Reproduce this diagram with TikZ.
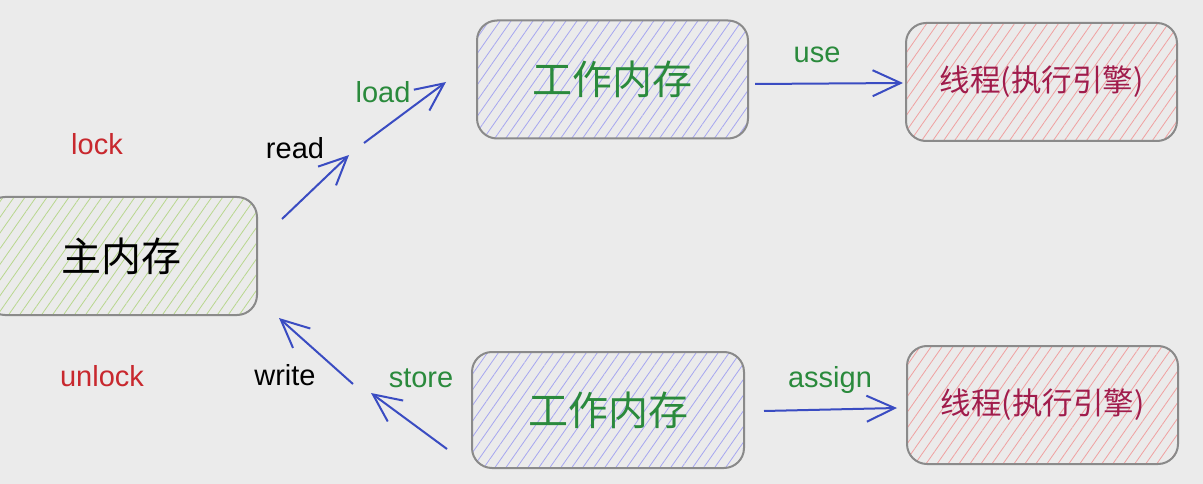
\documentclass[tikz,border=0pt]{standalone}
\usepackage{fontspec}
\setmainfont{Liberation Sans}
\newfontfamily\cjk{Noto Sans CJK SC}
\usetikzlibrary{arrows.meta,patterns.meta}
\definecolor{bgc}{HTML}{EBEBEB}
\definecolor{boxline}{HTML}{8A8A8A}
\definecolor{hgreen}{HTML}{B8D78E}
\definecolor{hblue}{HTML}{A6A6F0}
\definecolor{hred}{HTML}{F0A0A0}
\definecolor{arrblue}{HTML}{3A4CC2}
\definecolor{txgreen}{HTML}{2A8A3C}
\definecolor{txred}{HTML}{C8282E}
\definecolor{txthread}{HTML}{A01C4C}
\begin{document}
\begin{tikzpicture}[x=1pt,y=-1pt,
  box/.style={draw=boxline, line width=2pt, rounded corners=20pt, inner sep=0pt,
    minimum height=118pt},
  hatchg/.style={pattern={Lines[angle=55,distance=9pt,line width=0.8pt]}, pattern color=hgreen},
  hatchb/.style={pattern={Lines[angle=55,distance=9pt,line width=0.8pt]}, pattern color=hblue},
  hatchr/.style={pattern={Lines[angle=55,distance=9pt,line width=0.8pt]}, pattern color=hred},
  bigcjk/.style={font=\cjk\fontsize{40}{44}\selectfont},
  thrcjk/.style={font=\cjk\fontsize{30.5}{34}\selectfont, text=txthread},
  arr/.style={draw=arrblue, line width=2pt, -{Straight Barb[length=28pt,width=26pt,line width=2pt]}},
  lbl/.style={font=\fontsize{29}{32}\selectfont, anchor=base, inner sep=0pt}
]
\useasboundingbox (0,0) rectangle (1203,484);
\fill[bgc] (0,0) rectangle (1203,484);

% boxes
\node[box, hatchg, minimum width=272pt, bigcjk, text=black] (main) at (121,256) {主内存};
\node[box, hatchb, minimum width=271pt, bigcjk, text=txgreen] (work1) at (612.5,79.5) {工作内存};
\node[box, hatchr, minimum width=271pt, thrcjk] (thr1) at (1041.5,82) {线程(执行引擎)};
\node[box, hatchb, minimum width=272pt, minimum height=116pt, bigcjk, text=txgreen] (work2) at (608,410) {工作内存};
\node[box, hatchr, minimum width=271pt, thrcjk] (thr2) at (1042.5,405) {线程(执行引擎)};

% arrow end points
\coordinate (rd1) at (282,219);
\coordinate (rd2) at (349,155);
\coordinate (ld1) at (364,143);
\coordinate (ld2) at (446,82);
\coordinate (us1) at (755,84);
\coordinate (us2) at (903,83);
\coordinate (wr1) at (353,384);
\coordinate (wr2) at (279,318);
\coordinate (st1) at (447,449);
\coordinate (st2) at (371,393);
\coordinate (as1) at (764,411);
\coordinate (as2) at (897,408);

\draw[arr] (rd1) -- (rd2);
\draw[arr] (ld1) -- (ld2);
\draw[arr] (us1) -- (us2);
\draw[arr] (wr1) -- (wr2);
\draw[arr] (st1) -- (st2);
\draw[arr] (as1) -- (as2);

% labels
\node[lbl, text=txred] (lock) at (97,155) {lock};
\node[lbl, text=txred] (unlock) at (102,386) {unlock};
\node[lbl, text=black] (read) at (295,159) {read};
\node[lbl, text=txgreen] (load) at (383,103) {load};
\node[lbl, text=txgreen] (use) at (817,63) {use};
\node[lbl, text=black] (write) at (285,385) {write};
\node[lbl, text=txgreen] (store) at (421,387) {store};
\node[lbl, text=txgreen] (assign) at (830,387) {assign};
\end{tikzpicture}
\end{document}
